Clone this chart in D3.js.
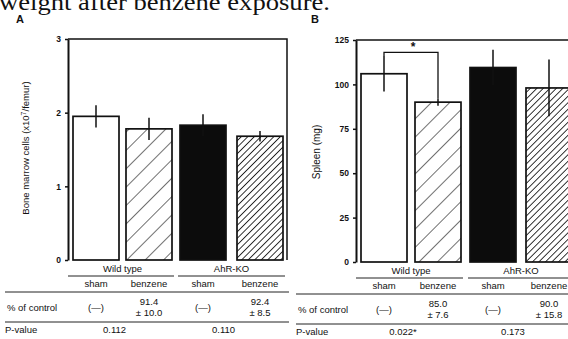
<!DOCTYPE html>
<html>
<head>
<meta charset="utf-8">
<script src="https://cdn.jsdelivr.net/npm/d3@7"></script>
<style>
  body { margin: 0; background: #fff; }
  text { font-family: "Liberation Sans", Arial, sans-serif; fill: #111; }
</style>
</head>
<body>
<svg id="fig" width="568" height="339"></svg>
<script>
// data
var groups = ["Wild type", "AhR-KO"];
var treatments = ["sham", "benzene"];
var barKeys = ["wt-sham", "wt-benzene", "ko-sham", "ko-benzene"];

var marrowMean = [1.95, 1.78, 1.83, 1.68];
var marrowErr = [0.15, 0.15, 0.15, 0.07];
var marrowTicks = [0, 1, 2, 3];

var spleenMean = [106, 90, 109.5, 98];
var spleenErr = [10, 2, 10, 16];
var spleenTicks = [0, 25, 50, 75, 100, 125];

var pctMarrow = ["(\u2014)", "91.4|\u00b1 10.0", "(\u2014)", "92.4|\u00b1 8.5"];
var pctSpleen = ["(\u2014)", "85.0|\u00b1 7.6", "(\u2014)", "90.0|\u00b1 15.8"];
var pMarrow = ["0.112", "0.110"];
var pSpleen = ["0.022*", "0.173"];

var svg = d3.select("#fig");

// patterns
var defs = svg.append("defs");
function hatch(id, gap) {
    var p = defs.append("pattern")
        .attr("id", id)
        .attr("patternUnits", "userSpaceOnUse")
        .attr("width", gap).attr("height", gap)
        .attr("patternTransform", "rotate(45)");
    p.append("rect").attr("width", gap).attr("height", gap).attr("fill", "#fff");
    p.append("line").attr("x1", 0).attr("y1", 0).attr("x2", 0).attr("y2", gap)
        .attr("stroke", "#111").attr("stroke-width", gap > 8 ? 1.2 : 1.7);
}
hatch("hatchWide", 13);
hatch("hatchDense", 4.6);
var fills = ["#fff", "url(#hatchWide)", "#0c0c0c", "url(#hatchDense)"];

// header text cut at top
svg.append("text")
    .attr("x", -1).attr("y", 10)
    .attr("textLength", 331).attr("lengthAdjust", "spacingAndGlyphs")
    .style("font-family", "'Liberation Serif', 'Times New Roman', serif")
    .style("font-size", "24px")
    .text("weight after benzene exposure.");

function panel(opt) {
    var x = d3.scaleOrdinal().domain(barKeys).range(opt.barX);
    var y = d3.scaleLinear().domain(opt.domain).range([opt.y0, opt.y1]);
    var g = svg.append("g");

    g.append("text").attr("x", opt.letterX).attr("y", 23)
        .style("font-size", "11px").style("font-weight", "bold")
        .text(opt.letter);

    // frame
    g.append("path")
        .attr("d", "M" + opt.axisX + "," + y(opt.domain[1]) + "H" + opt.rightX +
            (opt.rightClosed ? "V" + y(0) : ""))
        .attr("fill", "none").attr("stroke", "#111").attr("stroke-width", 1.5);

    g.append("g")
        .attr("transform", "translate(" + opt.axisX + ",0)")
        .call(d3.axisLeft(y).tickValues(opt.ticks).tickFormat(d3.format("d"))
            .tickSize(3).tickSizeOuter(0).tickPadding(4))
        .call(function (a) {
            a.select(".domain").attr("stroke", "#111").attr("stroke-width", 2);
            a.selectAll("line").attr("stroke", "#111").attr("stroke-width", 1.5);
            a.selectAll("text").style("font-size", "8.5px").style("font-weight", "bold")
                .style("font-family", "'Liberation Sans', Arial, sans-serif");
        });

    g.append("text")
        .attr("transform", "translate(" + opt.ylabX + "," + opt.ylabY + ") rotate(-90)")
        .attr("text-anchor", "middle")
        .style("font-size", opt.ylabSize)
        .html(opt.ylab);

    // bars
    g.selectAll(".bar").data(opt.mean).enter().append("rect")
        .attr("x", function (d, i) { return x(barKeys[i]); })
        .attr("y", function (d) { return y(d); })
        .attr("width", opt.barW)
        .attr("height", function (d) { return y(0) - y(d); })
        .attr("fill", function (d, i) { return fills[i]; })
        .attr("stroke", "#111").attr("stroke-width", 1.7);

    // error bars
    g.selectAll(".err").data(opt.mean).enter().append("line")
        .attr("x1", function (d, i) { return x(barKeys[i]) + opt.barW / 2; })
        .attr("x2", function (d, i) { return x(barKeys[i]) + opt.barW / 2; })
        .attr("y1", function (d, i) { return y(d - opt.err[i]); })
        .attr("y2", function (d, i) { return y(d + opt.err[i]); })
        .attr("stroke", "#111")
        .attr("stroke-width", 1.5);

    // table
    var tb = g.append("g").style("font-size", "9.5px");
    var gx = [(x(barKeys[0]) + x(barKeys[1]) + opt.barW) / 2, (x(barKeys[2]) + x(barKeys[3]) + opt.barW) / 2];
    groups.forEach(function (gr, i) {
        tb.append("text").attr("x", gx[i]).attr("y", opt.tY).attr("text-anchor", "middle").text(gr);
        tb.append("line")
            .attr("x1", x(barKeys[i * 2]) - (i == 0 ? 5 : 2)).attr("x2", Math.min(x(barKeys[i * 2 + 1]) + opt.barW + 2, 568))
            .attr("y1", opt.tY + 4).attr("y2", opt.tY + 4)
            .attr("stroke", "#222").attr("stroke-width", 1);
    });
    barKeys.forEach(function (k, i) {
        tb.append("text").attr("x", x(k) + opt.barW / 2).attr("y", opt.tY + 15)
            .attr("text-anchor", "middle").text(treatments[i % 2]);
    });
    tb.append("line").attr("x1", opt.tableX).attr("x2", opt.rightX + 2)
        .attr("y1", opt.tY + 20).attr("y2", opt.tY + 20).attr("stroke", "#222").attr("stroke-width", 1);
    tb.append("text").attr("x", opt.tableX + 2).attr("y", opt.tY + 39).text("% of control");
    opt.pct.forEach(function (s, i) {
        var parts = s.split("|");
        var cx = x(barKeys[i]) + opt.barW / 2;
        if (parts.length == 1) {
            tb.append("text").attr("x", cx).attr("y", opt.tY + 39).attr("text-anchor", "middle").text(parts[0]);
        } else {
            tb.append("text").attr("x", cx).attr("y", opt.tY + 33).attr("text-anchor", "middle").text(parts[0]);
            tb.append("text").attr("x", cx).attr("y", opt.tY + 44).attr("text-anchor", "middle").text(parts[1]);
        }
    });
    tb.append("line").attr("x1", opt.tableX).attr("x2", opt.rightX + 2)
        .attr("y1", opt.tY + 50).attr("y2", opt.tY + 50).attr("stroke", "#222").attr("stroke-width", 1);
    tb.append("text").attr("x", opt.tableX).attr("y", opt.tY + 61).text("P-value");
    opt.p.forEach(function (s, i) {
        tb.append("text").attr("x", gx[i] - 8).attr("y", opt.tY + 61).attr("text-anchor", "middle").text(s);
    });

    return { x: x, y: y, g: g };
}

panel({
    letter: "A", letterX: 16,
    barX: [73, 126, 180, 237], barW: 46,
    domain: [0, 3], y0: 260, y1: 39,
    ticks: marrowTicks, axisX: 68, rightX: 287, rightClosed: true,
    ylab: "Bone marrow cells (x10<tspan dy='-3' font-size='7'>7</tspan><tspan dy='3'>/femur)</tspan>",
    ylabX: 29, ylabY: 148, ylabSize: "9.5px",
    mean: marrowMean, err: marrowErr,
    tY: 272, tableX: 5,
    pct: pctMarrow, p: pMarrow
});

var B = panel({
    letter: "B", letterX: 311,
    barX: [361, 415, 470, 526], barW: 46,
    domain: [0, 125], y0: 262, y1: 40,
    ticks: spleenTicks, axisX: 356, rightX: 568, rightClosed: false,
    ylab: "Spleen (mg)",
    ylabX: 320, ylabY: 152, ylabSize: "10px",
    mean: spleenMean, err: spleenErr,
    tY: 274, tableX: 296,
    pct: pctSpleen, p: pSpleen
});

// significance bracket
var c0 = B.x(barKeys[0]) + 23, c1 = B.x(barKeys[1]) + 23;
var by = B.y(118);
B.g.append("path")
    .attr("d", "M" + c0 + "," + B.y(spleenMean[0] + spleenErr[0]) + "V" + by + "H" + c1 + "V" + B.y(spleenMean[1] + spleenErr[1]))
    .attr("fill", "none").attr("stroke", "#111").attr("stroke-width", 1.3);
B.g.append("text").attr("x", (c0 + c1) / 2 + 2).attr("y", by - 1)
    .attr("text-anchor", "middle").style("font-size", "12px").style("font-weight", "bold").text("*");
</script>
</body>
</html>
